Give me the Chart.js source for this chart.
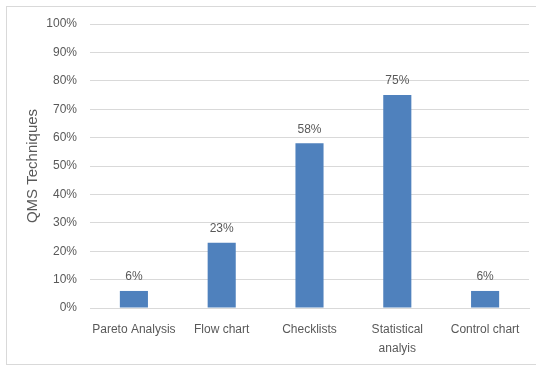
<!DOCTYPE html>
<html>
<head>
<meta charset="utf-8">
<script src="https://cdn.jsdelivr.net/npm/chart.js@4"></script>
<style>
  html, body { margin: 0; padding: 0; background: #fff; overflow: hidden; }
  #wrap { position: relative; width: 536px; height: 365px; overflow: hidden; }
  #frame { position: absolute; left: 6px; top: 6px; width: 560px; height: 357px; border: 1px solid #d9d9d9; }
  canvas { position: absolute; left: 0; top: 0; }
</style>
</head>
<body>
<div id="wrap">
  <div id="frame"></div>
  <canvas id="qmsChart" width="536" height="365"></canvas>
</div>
<script>
// 圖表資料
const categories = ['Pareto Analysis', 'Flow chart', 'Checklists', ['Statistical', 'analyis'], 'Control chart'];
const usage = [6, 23, 58, 75, 6];
const yTicks = [0, 10, 20, 30, 40, 50, 60, 70, 80, 90, 100];

const textColor = '#595959';
const fontFamily = '"Liberation Sans", Arial, sans-serif';

// 在長條上方顯示百分比
const valueLabels = {
    id: 'valueLabels',
    afterDatasetsDraw(chart) {
        const ctx = chart.ctx;
        const meta = chart.getDatasetMeta(0);
        ctx.save();
        ctx.fillStyle = textColor;
        ctx.font = '12px ' + fontFamily;
        ctx.textAlign = 'center';
        ctx.textBaseline = 'middle';
        meta.data.forEach((bar, i) => {
            ctx.fillText(usage[i] + '%', bar.x, bar.y - 14);
        });
        ctx.restore();
    }
};

new Chart(document.getElementById('qmsChart'), {
    type: 'bar',
    data: {
        labels: categories,
        datasets: [{
            data: usage,
            backgroundColor: '#4F81BD',
            barPercentage: 0.32,
            categoryPercentage: 1
        }]
    },
    options: {
        responsive: false,
        animation: false,
        layout: { padding: { left: 0, right: 7, top: 24, bottom: 0 } },
        plugins: {
            legend: { display: false },
            tooltip: { enabled: false }
        },
        scales: {
            x: {
                grid: { display: false, drawTicks: false },
                border: { color: '#d9d9d9' },
                ticks: {
                    color: textColor,
                    font: { family: fontFamily, size: 12, lineHeight: 1.6 },
                    padding: 12,
                    maxRotation: 0,
                    autoSkip: false
                },
                afterFit(scale) { scale.height = 57; }
            },
            y: {
                min: 0,
                max: 100,
                afterBuildTicks(scale) { scale.ticks = yTicks.map(v => ({ value: v })); },
                grid: { color: '#d9d9d9', drawTicks: false },
                border: { display: false },
                ticks: {
                    color: textColor,
                    font: { family: fontFamily, size: 12 },
                    padding: 13,
                    callback: v => v + '%'
                },
                title: {
                    display: true,
                    text: 'QMS Techniques',
                    color: textColor,
                    font: { family: fontFamily, size: 15 },
                    padding: { top: 24, bottom: 0 }
                },
                afterFit(scale) { scale.width = 90; }
            }
        }
    },
    plugins: [valueLabels]
});
</script>
</body>
</html>
